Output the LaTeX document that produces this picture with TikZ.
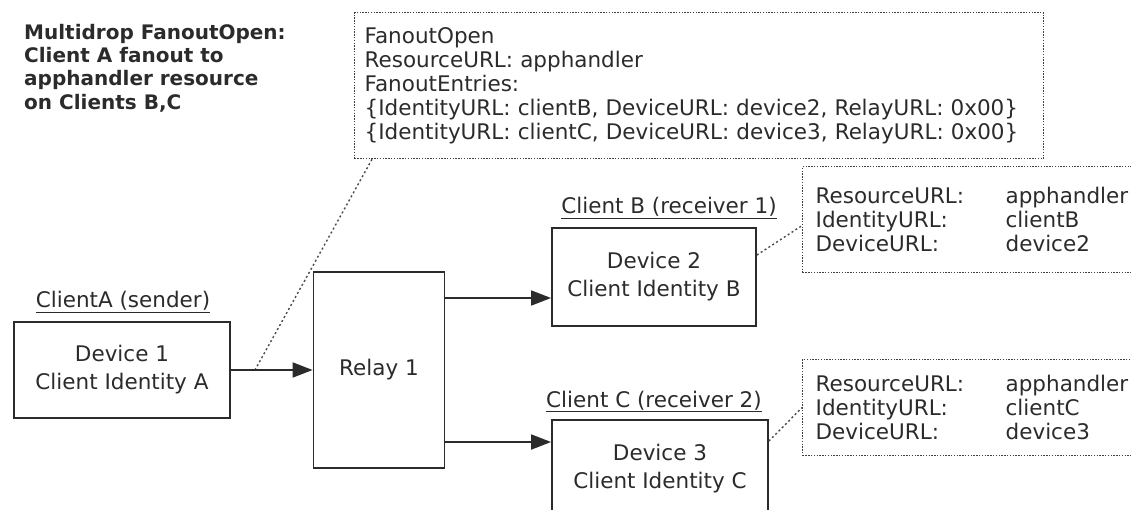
\documentclass[tikz,border=0pt]{standalone}
\usepackage{fontspec}
\setmainfont{DejaVu Sans}
\usetikzlibrary{arrows.meta,positioning}
\definecolor{ink}{HTML}{2B2B2B}
\tikzset{
  box/.style={draw=ink,line width=1.8pt,text=ink,align=center,font=\fontsize{21.5}{28}\selectfont},
  note/.style={draw=ink!90,line width=1.3pt,dash pattern=on 1.4pt off 1.4pt,text=ink,align=left,inner xsep=10pt},
  leader/.style={draw=ink!85,line width=1.4pt,dash pattern=on 2pt off 2.6pt},
  flow/.style={draw=ink,line width=1.8pt,-{Triangle[length=20pt,width=15pt]}},
  owner/.style={text=ink,anchor=base}
}
\begin{document}
\begin{tikzpicture}[x=1pt,y=-1pt,font=\fontsize{21.5}{24}\selectfont]
\useasboundingbox (0,0) rectangle (1131,510);
\clip (0,0) rectangle (1131,510);

\begin{scope}
\node[anchor=north west,inner sep=0,align=left,text=ink,font=\fontsize{20}{23.3}\selectfont\bfseries] (title) at (24,24) {Multidrop FanoutOpen:\\Client A fanout to\\apphandler resource\\on Clients B,C};

\node[box,minimum width=216pt,minimum height=96pt] (dev1) at (122,370) {Device 1\\Client Identity A};
\node[box,minimum width=131pt,minimum height=196pt] (relay) at (379,370) {Relay 1};
\node[box,minimum width=204pt,minimum height=98pt] (dev2) at (654,277) {Device 2\\Client Identity B};
\node[box,minimum width=216pt,minimum height=98pt] (dev3) at (660,469) {Device 3\\Client Identity C};

\node[owner] (ownera) at (123,308) {\underline{ClientA (sender)}};
\node[owner] (ownerb) at (669,214) {\underline{Client B (receiver 1)}};
\node[owner] (ownerc) at (654,407) {\underline{Client C (receiver 2)}};

\node[note,anchor=north west,text width=669pt,minimum height=146pt] (open) at (354,12) {FanoutOpen\\ResourceURL: apphandler\\FanoutEntries:\\\{IdentityURL: clientB, DeviceURL: device2, RelayURL: 0x00\}\\\{IdentityURL: clientC, DeviceURL: device3, RelayURL: 0x00\}};

\node[note,anchor=north west,text width=360pt,minimum height=106pt,inner xsep=13pt] (infob) at (802,166) {\makebox[190pt][l]{ResourceURL:}apphandler\\\makebox[190pt][l]{IdentityURL:}clientB\\\makebox[190pt][l]{DeviceURL:}device2};
\node[note,anchor=north west,text width=360pt,minimum height=96pt,inner xsep=13pt] (infoc) at (802,359) {\makebox[190pt][l]{ResourceURL:}apphandler\\\makebox[190pt][l]{IdentityURL:}clientC\\\makebox[190pt][l]{DeviceURL:}device3};

\coordinate (tap) at (255,370);
\coordinate (rowb) at (0,298);
\coordinate (rowc) at (0,442);

\draw[leader] ([xshift=18pt]open.south west) -- (tap);
\draw[leader] ([yshift=22pt]dev2.east) -- ([yshift=-6pt]infob.west);
\draw[leader] ([yshift=28pt]dev3.east) -- (infoc.west);

\draw[flow] (dev1.east) -- (relay.west);
\draw[flow] (relay.east |- rowb) -- (dev2.west |- rowb);
\draw[flow] (relay.east |- rowc) -- (dev3.west |- rowc);
\end{scope}

\end{tikzpicture}
\end{document}
